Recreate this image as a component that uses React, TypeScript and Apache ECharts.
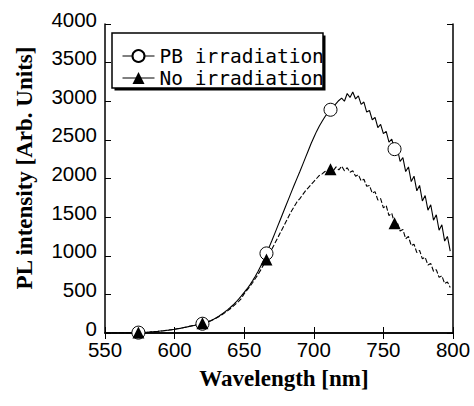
import React, { useEffect, useRef } from "react";
import * as echarts from "echarts";

const wavelengths: number[] = [
  550, 552, 554, 556, 558, 560, 562, 564, 566, 568, 570, 572, 574, 576, 578, 580, 582, 584, 586, 588,
  590, 592, 594, 596, 598, 600, 602, 604, 606, 608, 610, 612, 614, 616, 618, 620, 622, 624, 626, 628,
  630, 632, 634, 636, 638, 640, 642, 644, 646, 648, 650, 652, 654, 656, 658, 660, 662, 664, 666, 668,
  670, 672, 674, 676, 678, 680, 682, 684, 686, 688, 690, 692, 694, 696, 698, 700, 702, 704, 706, 708,
  710, 712, 714, 716, 718, 720, 722, 724, 726, 728, 730, 732, 734, 736, 738, 740, 742, 744, 746, 748,
  750, 752, 754, 756, 758, 760, 762, 764, 766, 768, 770, 772, 774, 776, 778, 780, 782, 784, 786, 788,
  790, 792, 794, 796, 798,
];

const pbIrradiation: number[] = [
  0, 0, 0, 0, 0, 0, 1, 1, 2, 2, 3, 4, 5, 6, 8, 10, 12, 15, 18, 21,
  25, 29, 34, 38, 43, 48, 55, 60, 68, 75, 83, 90, 98, 105, 112, 120, 130, 145, 160, 178,
  198, 220, 245, 272, 300, 330, 362, 398, 438, 480, 525, 570, 620, 675, 735, 800, 870, 945, 1030, 1115,
  1200, 1290, 1380, 1470, 1560, 1650, 1740, 1830, 1920, 2005, 2090, 2180, 2270, 2360, 2450, 2530, 2610, 2680, 2740, 2800,
  2850, 2890, 2930, 2970, 3010, 3040, 3000, 3100, 3050, 3120, 3030, 3070, 2960, 2990, 2860, 2880, 2760, 2790, 2660, 2700,
  2580, 2610, 2470, 2510, 2380, 2390, 2220, 2270, 2090, 2150, 1960, 2030, 1840, 1910, 1710, 1780, 1590, 1660, 1460, 1530,
  1330, 1400, 1190, 1250, 1060,
];

const noIrradiation: number[] = [
  0, 0, 0, 0, 0, 0, 1, 1, 2, 2, 3, 4, 5, 6, 8, 10, 12, 15, 18, 21,
  25, 29, 34, 38, 43, 48, 55, 61, 68, 76, 84, 92, 100, 108, 116, 125, 134, 146, 160, 176,
  194, 214, 236, 260, 286, 314, 344, 376, 410, 448, 510, 555, 600, 650, 705, 760, 820, 885, 950, 1020,
  1090, 1160, 1230, 1300, 1370, 1440, 1510, 1580, 1640, 1700, 1740, 1790, 1840, 1880, 1920, 1960, 2000, 2040, 2060, 2090,
  2100, 2120, 2100, 2150, 2110, 2160, 2100, 2140, 2080, 2100, 2030, 2050, 1970, 1990, 1900, 1910, 1810, 1830, 1720, 1740,
  1620, 1650, 1520, 1550, 1420, 1430, 1320, 1340, 1220, 1250, 1130, 1150, 1040, 1070, 960, 980, 880, 900, 800, 820,
  720, 740, 640, 660, 590,
];

const markerWavelengths: number[] = [574, 620, 666, 712, 758];
const xTicks: number[] = [550, 600, 650, 700, 750, 800];
const yTicks: number[] = [0, 500, 1000, 1500, 2000, 2500, 3000, 3500, 4000];

const seriesNames = ["PB irradiation", "No irradiation"];

function buildData(values: number[]) {
  return wavelengths.map((w, i) =>
    markerWavelengths.includes(w)
      ? { value: [w, values[i]] }
      : { value: [w, values[i]], symbol: "none" }
  );
}

export default function App() {
  const ref = useRef<HTMLDivElement>(null);
  useEffect(() => {
    if (!ref.current) return;
    const chart = echarts.init(ref.current, undefined, { renderer: "svg" });
    const axisLine = { show: true, lineStyle: { color: "#000", width: 1.5 } };
    const tick = { show: true, inside: true, length: 6, lineStyle: { color: "#000", width: 1 } };
    const labelFont = { fontFamily: "Liberation Sans", fontSize: 20.5, color: "#000" };
    const plain = (v: number) => String(v);
    chart.setOption({
      animation: false,
      backgroundColor: "#fff",
      grid: { left: 105, top: 24, width: 348, height: 309, containLabel: false },
      xAxis: [
        {
          type: "value",
          min: xTicks[0],
          max: xTicks[xTicks.length - 1],
          interval: 50,
          position: "bottom",
          axisLine,
          axisTick: tick,
          splitLine: { show: false },
          axisLabel: { ...labelFont, margin: 6, formatter: plain },
        },
        {
          type: "value",
          min: xTicks[0],
          max: xTicks[xTicks.length - 1],
          interval: 50,
          position: "top",
          axisLine,
          axisTick: tick,
          splitLine: { show: false },
          axisLabel: { show: false },
        },
      ],
      yAxis: [
        {
          type: "value",
          min: yTicks[0],
          max: yTicks[yTicks.length - 1],
          interval: 500,
          position: "left",
          axisLine,
          axisTick: tick,
          splitLine: { show: false },
          axisLabel: { ...labelFont, margin: 8, formatter: plain, verticalAlign: "bottom", lineHeight: 10 },
        },
        {
          type: "value",
          min: yTicks[0],
          max: yTicks[yTicks.length - 1],
          interval: 500,
          position: "right",
          axisLine,
          axisTick: tick,
          splitLine: { show: false },
          axisLabel: { show: false },
        },
      ],
      legend: {
        orient: "vertical",
        left: 117,
        top: 41,
        itemWidth: 32,
        itemHeight: 15,
        itemGap: 2,
        selectedMode: false,
        z: 10,
        lineStyle: { type: "solid", width: 1 },
        textStyle: { fontFamily: "DejaVu Sans Mono", fontSize: 19.5, color: "#000", lineHeight: 20 },
        data: seriesNames,
      },
      graphic: [
        { type: "rect", z: 5, shape: { x: 114.5, y: 35.5, width: 211, height: 55 }, style: { fill: "#000" } },
        {
          type: "rect",
          z: 6,
          shape: { x: 112, y: 33, width: 211, height: 55 },
          style: { fill: "#fff", stroke: "#000", lineWidth: 1.5 },
        },
        {
          type: "text",
          x: 24,
          y: 168,
          rotation: Math.PI / 2,
          style: {
            text: "PL intensity [Arb. Units]",
            font: "bold 23px 'Liberation Serif'",
            fill: "#000",
            textAlign: "center",
            textVerticalAlign: "middle",
          },
        },
        {
          type: "text",
          x: 284,
          y: 378,
          style: {
            text: "Wavelength [nm]",
            font: "bold 23px 'Liberation Serif'",
            fill: "#000",
            textAlign: "center",
            textVerticalAlign: "middle",
          },
        },
      ],
      series: [
        {
          name: seriesNames[0],
          type: "line",
          xAxisIndex: 0,
          yAxisIndex: 0,
          data: buildData(pbIrradiation),
          symbol: "circle",
          symbolSize: 13,
          showSymbol: true,
          itemStyle: { color: "#fff", borderColor: "#000", borderWidth: 1 },
          lineStyle: { color: "#000", width: 1.1, type: "solid" },
        },
        {
          name: seriesNames[1],
          type: "line",
          xAxisIndex: 0,
          yAxisIndex: 0,
          data: buildData(noIrradiation),
          symbol: "triangle",
          symbolSize: 12,
          showSymbol: true,
          itemStyle: { color: "#000", borderColor: "#000", borderWidth: 0 },
          lineStyle: { color: "#000", width: 1.1, type: [5, 2] },
        },
      ],
    });
    return () => chart.dispose();
  }, []);
  return <div ref={ref} style={{ position: "fixed", left: 0, top: 0, width: 474, height: 406 }} />;
}
